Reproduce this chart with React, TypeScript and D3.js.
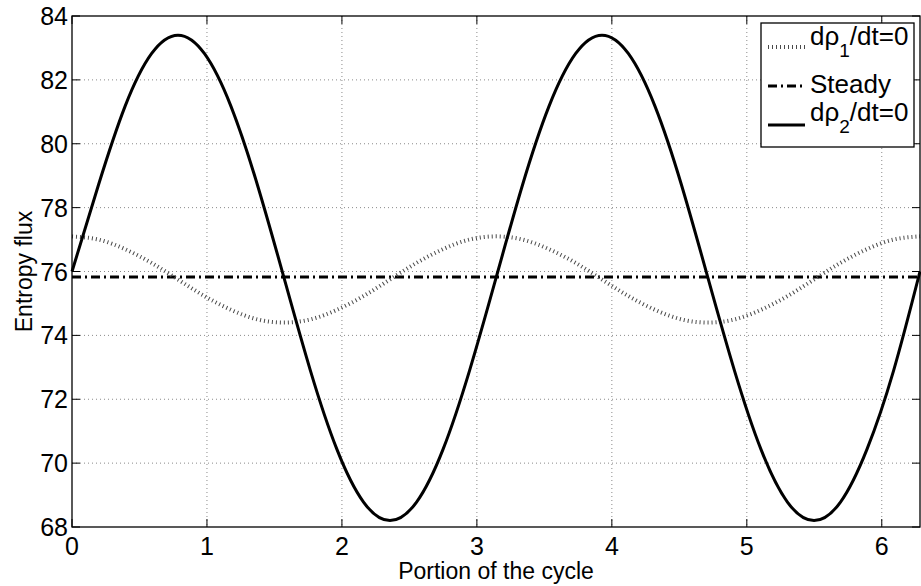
import * as d3 from "d3";

const WIDTH = 921;
const HEIGHT = 586;
const MARGIN = { top: 16, right: 1, bottom: 59, left: 72 };

// x positions (portion of the cycle)
const xValues = [
  0, 0.196, 0.393, 0.589, 0.785, 0.982, 1.178, 1.374, 1.571, 1.767, 1.963, 2.16,
  2.356, 2.553, 2.749, 2.945, 3.142, 3.338, 3.534, 3.731, 3.927, 4.123, 4.32,
  4.516, 4.712, 4.909, 5.105, 5.301, 5.498, 5.694, 5.89, 6.087, 6.283,
];

const rho1Values = [
  77.1, 77.0, 76.7, 76.27, 75.75, 75.23, 74.8, 74.5, 74.4, 74.5, 74.8, 75.23,
  75.75, 76.27, 76.7, 77.0, 77.1, 77.0, 76.7, 76.27, 75.75, 75.23, 74.8, 74.5,
  74.4, 74.5, 74.8, 75.23, 75.75, 76.27, 76.7, 77.0, 77.1,
];

const rho2Values = [
  76.0, 78.71, 81.17, 82.82, 83.4, 82.82, 81.17, 78.71, 75.8, 72.89, 70.43, 68.78,
  68.2, 68.78, 70.43, 72.89, 75.8, 78.71, 81.17, 82.82, 83.4, 82.82, 81.17, 78.71,
  75.8, 72.89, 70.43, 68.78, 68.2, 68.78, 70.43, 72.89, 76.0,
];

const steadyValue = 75.83;

const xTicks = [0, 1, 2, 3, 4, 5, 6];
const yTicks = [68, 70, 72, 74, 76, 78, 80, 82, 84];

const FONT = "'Liberation Sans', Arial, Helvetica, sans-serif";

export default function App() {
  const boundsWidth = WIDTH - MARGIN.left - MARGIN.right;
  const boundsHeight = HEIGHT - MARGIN.top - MARGIN.bottom;

  const xScale = d3.scaleLinear().domain([0, 2 * Math.PI]).range([0, boundsWidth]);
  const yScale = d3.scaleLinear().domain([68, 84]).range([boundsHeight, 0]);

  const line = d3
    .line<number>()
    .x((_, i) => xScale(xValues[i]))
    .y((d) => yScale(d))
    .curve(d3.curveNatural);

  const rho1Path = line(rho1Values) || "";
  const rho2Path = line(rho2Values) || "";

  const tickLen = 8;

  return (
    <svg
      width={WIDTH}
      height={HEIGHT}
      style={{ position: "absolute", left: 0, top: 0, background: "#fff" }}
      fontFamily={FONT}
    >
      <g transform={`translate(${MARGIN.left},${MARGIN.top})`}>
        {/* grid */}
        {xTicks.slice(1).map((t) => (
          <line
            key={"gx" + t}
            x1={xScale(t)}
            x2={xScale(t)}
            y1={0}
            y2={boundsHeight}
            stroke="#8a8a8a"
            strokeWidth={1}
            strokeDasharray="1,3"
          />
        ))}
        {yTicks.slice(1, -1).map((t) => (
          <line
            key={"gy" + t}
            x1={0}
            x2={boundsWidth}
            y1={yScale(t)}
            y2={yScale(t)}
            stroke="#8a8a8a"
            strokeWidth={1}
            strokeDasharray="1,3"
          />
        ))}

        {/* series */}
        <line
          x1={0}
          x2={boundsWidth}
          y1={yScale(steadyValue)}
          y2={yScale(steadyValue)}
          stroke="#000"
          strokeWidth={3}
          strokeDasharray="9,4,2,4"
        />
        <path d={rho1Path} fill="none" stroke="#4a4a4a" strokeWidth={4} strokeDasharray="1,3" />
        <path d={rho2Path} fill="none" stroke="#000" strokeWidth={3} />

        {/* box and ticks */}
        <rect x={0} y={0} width={boundsWidth} height={boundsHeight} fill="none" stroke="#000" strokeWidth={1.3} />
        {xTicks.map((t) => (
          <g key={"tx" + t}>
            <line x1={xScale(t)} x2={xScale(t)} y1={boundsHeight} y2={boundsHeight - tickLen} stroke="#000" />
            <line x1={xScale(t)} x2={xScale(t)} y1={0} y2={tickLen} stroke="#000" />
            <text x={xScale(t)} y={boundsHeight + 28} textAnchor="middle" fontSize={25}>
              {t}
            </text>
          </g>
        ))}
        {yTicks.map((t) => (
          <g key={"ty" + t}>
            <line x1={0} x2={tickLen} y1={yScale(t)} y2={yScale(t)} stroke="#000" />
            <line x1={boundsWidth} x2={boundsWidth - tickLen} y1={yScale(t)} y2={yScale(t)} stroke="#000" />
            <text x={-4} y={yScale(t) + 9} textAnchor="end" fontSize={25}>
              {t}
            </text>
          </g>
        ))}

        {/* axis labels */}
        <text x={boundsWidth / 2} y={boundsHeight + 52} textAnchor="middle" fontSize={23}>
          Portion of the cycle
        </text>
        <text
          transform={`translate(${-40},${boundsHeight / 2}) rotate(-90)`}
          textAnchor="middle"
          fontSize={23}
        >
          Entropy flux
        </text>

        {/* legend */}
        <g transform={`translate(${761 - MARGIN.left},${23 - MARGIN.top})`}>
          <rect x={0} y={0} width={153} height={124} fill="#fff" stroke="#000" strokeWidth={1.3} />
          <line x1={7} x2={44} y1={24} y2={24} stroke="#4a4a4a" strokeWidth={4} strokeDasharray="1,3" />
          <text x={49} y={22} fontSize={26}>
            dρ<tspan dy={12} fontSize={19}>1</tspan>
            <tspan dy={-12}>/dt=0</tspan>
          </text>
          <line x1={7} x2={44} y1={63} y2={63} stroke="#000" strokeWidth={3} strokeDasharray="9,4,2,4" />
          <text x={49} y={70} fontSize={26}>
            Steady
          </text>
          <line x1={7} x2={44} y1={102} y2={102} stroke="#000" strokeWidth={3} />
          <text x={49} y={98} fontSize={26}>
            dρ<tspan dy={12} fontSize={19}>2</tspan>
            <tspan dy={-12}>/dt=0</tspan>
          </text>
        </g>
      </g>
    </svg>
  );
}
